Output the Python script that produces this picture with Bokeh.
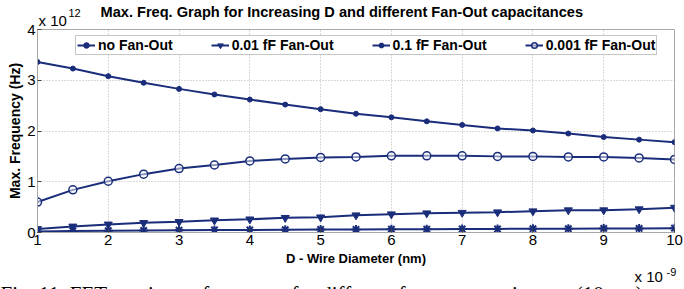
from bokeh.plotting import figure
from bokeh.models import FixedTicker, Title, Range1d
from bokeh.embed import file_html
from bokeh.resources import INLINE

# ---- data ----
diameter_nm = [1, 1.5, 2, 2.5, 3, 3.5, 4, 4.5, 5, 5.5, 6, 6.5, 7, 7.5, 8, 8.5, 9, 9.5, 10]  # x 1e-9
no_fanout = [3.36, 3.23, 3.08, 2.95, 2.83, 2.72, 2.62, 2.52, 2.43, 2.34, 2.27, 2.19, 2.12, 2.05, 2.01, 1.95, 1.88, 1.83, 1.78]
fanout_001 = [0.07, 0.12, 0.16, 0.19, 0.21, 0.24, 0.26, 0.29, 0.30, 0.34, 0.36, 0.38, 0.39, 0.40, 0.42, 0.44, 0.44, 0.46, 0.49]
fanout_01 = [0.02, 0.03, 0.035, 0.04, 0.045, 0.05, 0.05, 0.055, 0.06, 0.06, 0.065, 0.065, 0.07, 0.07, 0.075, 0.075, 0.08, 0.08, 0.085]
fanout_0001 = [0.60, 0.84, 1.01, 1.15, 1.26, 1.33, 1.41, 1.45, 1.48, 1.49, 1.51, 1.51, 1.51, 1.50, 1.50, 1.49, 1.49, 1.47, 1.44]  # x 1e12 Hz
x_ticks = [1, 2, 3, 4, 5, 6, 7, 8, 9, 10]
y_ticks = [0, 1, 2, 3, 4]

title_text = "Max. Freq. Graph for Increasing D and different Fan-Out capacitances"
x_label = "D - Wire Diameter (nm)"
y_label = "Max. Frequency (Hz)"
caption = "Fig. 11. FET maximum frequency for different fan-out capacitances (10 nm)"

NAVY = "#1a2d7a"
GREY = "#a8a8a8"
FONT = "Liberation Sans"

p = figure(width=684, height=289, output_backend="svg", toolbar_location=None,
           title=None, x_range=Range1d(1, 10), y_range=Range1d(0, 4),
           min_border_left=37, min_border_right=10, min_border_top=29, min_border_bottom=57,
           background_fill_color="white", border_fill_color="white")
p.outline_line_color = GREY

for g in (p.xgrid, p.ygrid):
    g.grid_line_color = "#b4b4b4"
    g.grid_line_dash = "1 2"
    g.grid_line_width = 1
p.xgrid.ticker = FixedTicker(ticks=x_ticks)
p.ygrid.ticker = FixedTicker(ticks=y_ticks)

for ax, ticks in ((p.xaxis[0], x_ticks), (p.yaxis[0], y_ticks)):
    ax.ticker = FixedTicker(ticks=ticks)
    ax.axis_line_color = GREY
    ax.major_tick_in = 4
    ax.major_tick_out = 0
    ax.major_tick_line_color = "#404040"
    ax.minor_tick_line_color = None
    ax.major_label_text_font = FONT
    ax.major_label_text_font_size = "15px"
    ax.major_label_text_color = "black"
    ax.major_label_standoff = 2
    ax.axis_label_text_font = FONT
    ax.axis_label_text_font_style = "bold"
    ax.axis_label_text_color = "black"
p.xaxis.axis_label = x_label
p.yaxis.axis_label = y_label
p.xaxis.axis_label_text_font_size = "13px"
p.yaxis.axis_label_text_font_size = "14px"
p.xaxis.axis_label_standoff = 3
p.yaxis.axis_label_standoff = 1

# series
p.line(diameter_nm, no_fanout, color=NAVY, line_width=2, legend_label="no Fan-Out")
p.scatter(diameter_nm, no_fanout, marker="circle", size=5, color=NAVY, legend_label="no Fan-Out")

p.line(diameter_nm, fanout_001, color=NAVY, line_width=2, legend_label="0.01 fF Fan-Out")
p.scatter(diameter_nm, fanout_001, marker="inverted_triangle", size=8, color=NAVY, legend_label="0.01 fF Fan-Out")

p.line(diameter_nm, fanout_01, color=NAVY, line_width=2, legend_label="0.1 fF Fan-Out")
p.scatter(diameter_nm, fanout_01, marker="asterisk", size=9, line_color=NAVY, line_width=2, legend_label="0.1 fF Fan-Out")

p.line(diameter_nm, fanout_0001, color=NAVY, line_width=2, legend_label="0.001 fF Fan-Out")
p.scatter(diameter_nm, fanout_0001, marker="circle", size=8, line_color=NAVY, line_width=1.5,
          fill_color="white", fill_alpha=0.5, legend_label="0.001 fF Fan-Out")

lg = p.legend[0]
lg.orientation = "horizontal"
lg.location = (38, 177)
lg.label_text_font = FONT
lg.label_text_font_style = "bold"
lg.label_text_font_size = "14px"
lg.label_text_color = "black"
lg.glyph_width = 18
lg.glyph_height = 14
lg.label_height = 14
lg.label_standoff = 3
lg.spacing = 38
lg.padding = 1
lg.margin = 0
lg.border_line_color = "#8c8c8c"
lg.border_line_width = 1
lg.background_fill_color = "white"
lg.background_fill_alpha = 1

# texts in the side panels (first added = closest to the frame)
def side_title(text, size, offset, standoff, style="normal", font=FONT, valign="bottom"):
    return Title(text=text, align="left", offset=offset, standoff=standoff,
                 vertical_align=valign, text_font=font, text_font_size=size,
                 text_font_style=style, text_color="black")

# top panel: a filler row fills the 29px border, zero-height text rows sit above it
p.add_layout(side_title(" ", "1px", 0, 25.8), "above")
p.add_layout(side_title("x 10", "15px", 1, -56.6), "above")
p.add_layout(side_title(title_text, "14.6px", 63, -38.4, style="bold"), "above")
p.add_layout(side_title("12", "11px", 31, -32.8), "above")

# bottom panel: zero-height text rows right below the x axis
p.add_layout(side_title("-9", "11px", 629, -15.0), "below")
p.add_layout(side_title("x 10", "15px", 597, -33.0), "below")
p.add_layout(side_title(caption, "21px", -37, -74.0, font="Liberation Serif"), "below")

open("out.html", "w").write(file_html(p, INLINE))
